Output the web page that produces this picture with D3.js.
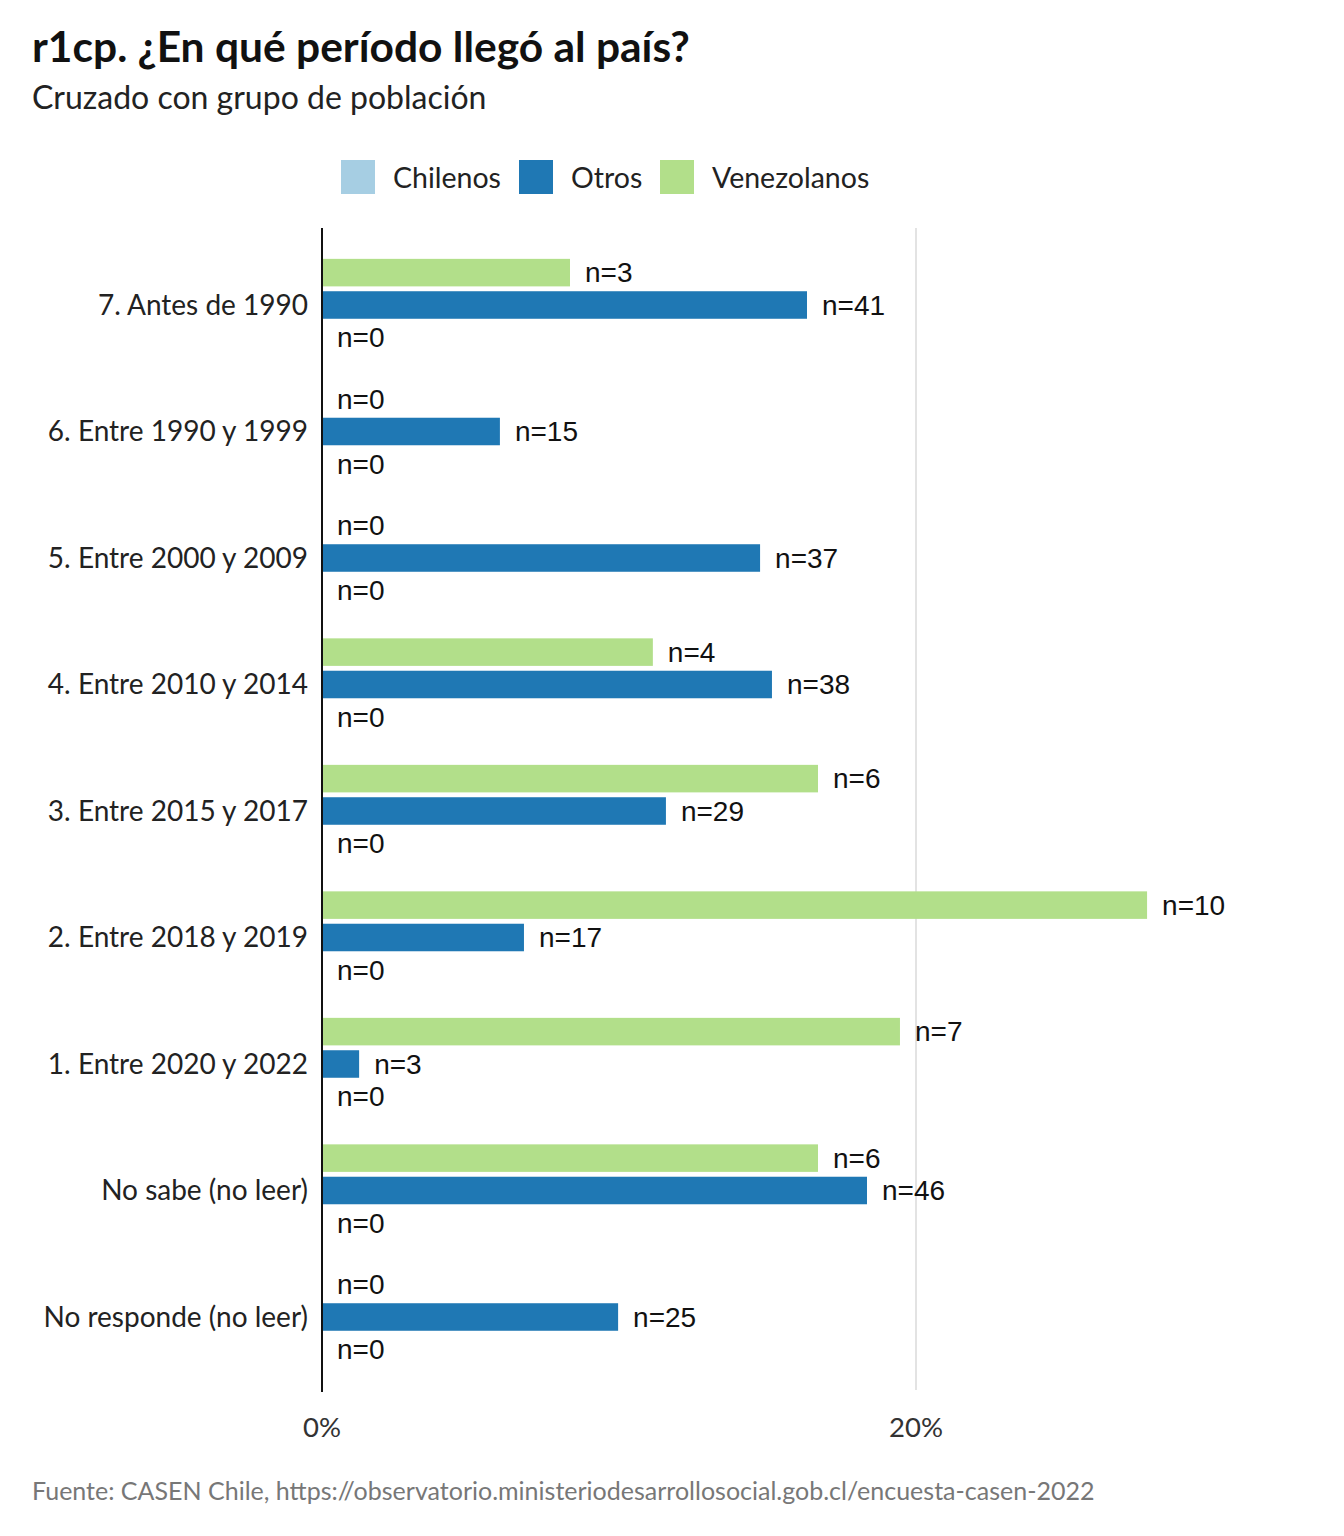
<!DOCTYPE html>
<html><head><meta charset="utf-8">
<script src="https://cdn.jsdelivr.net/npm/d3@7"></script>
<style>body{margin:0;background:#fff}</style></head>
<body><svg id="c" width="1344" height="1536"></svg>
<script>
const categories=["7. Antes de 1990","6. Entre 1990 y 1999","5. Entre 2000 y 2009","4. Entre 2010 y 2014","3. Entre 2015 y 2017","2. Entre 2018 y 2019","1. Entre 2020 y 2022","No sabe (no leer)","No responde (no leer)"];
const seriesNames=["Venezolanos","Otros","Chilenos"];
const venezolanos=[8.35,0,0,11.14,16.7,27.78,19.46,16.7,0];
const otros=[16.33,5.99,14.75,15.15,11.58,6.8,1.25,18.35,9.97];
const chilenos=[0,0,0,0,0,0,0,0,0];
const nVen=[3,0,0,4,6,10,7,6,0];
const nOtros=[41,15,37,38,29,17,3,46,25];
const nChi=[0,0,0,0,0,0,0,0,0];
const ticks=[0,20];
const colors={Chilenos:"#a6cee3",Otros:"#1f78b4",Venezolanos:"#b2df8a"};

const svg=d3.select("#c");
const x=d3.scaleLinear().domain([0,20]).range([322,916]);
const y=d3.scaleBand().domain(categories).range([241.75,1380.25]);
const sub=d3.scaleBand().domain(seriesNames).range([-51,51]).padding(0.15);
const font="Lato, sans-serif";
const nfont="'Liberation Sans', Arial, sans-serif";
svg.append("text").attr("x",32).attr("y",62).attr("font-family",font).attr("font-weight","bold").attr("font-size",42.5).attr("fill","#111").text("r1cp. ¿En qué período llegó al país?");
svg.append("text").attr("x",32).attr("y",109).attr("font-family",font).attr("font-size",32).attr("fill","#222").text("Cruzado con grupo de población");
ticks.forEach(t=>{ if(t>0) svg.append("line").attr("x1",x(t)).attr("x2",x(t)).attr("y1",228).attr("y2",1390).attr("stroke","#d0d0d0").attr("stroke-width",1.2);
 svg.append("text").attr("x",x(t)).attr("y",1427).attr("dy","0.35em").attr("text-anchor","middle").attr("font-family",font).attr("font-size",27.5).attr("fill","#333").text(t+"%");});
const data={Venezolanos:[venezolanos,nVen],Otros:[otros,nOtros],Chilenos:[chilenos,nChi]};
categories.forEach((c,i)=>{
 const cy=y(c)+y.bandwidth()/2;
 svg.append("text").attr("x",308).attr("y",cy).attr("dy","0.35em").attr("text-anchor","end").attr("font-family",font).attr("font-size",28).attr("fill","#222").text(c);
 seriesNames.forEach(s=>{
  const v=data[s][0][i],n=data[s][1][i];
  const yy=cy+sub(s);
  if(v>0) svg.append("rect").attr("x",x(0)).attr("y",yy).attr("width",x(v)-x(0)).attr("height",sub.bandwidth()).attr("fill",colors[s]);
  svg.append("text").attr("x",x(v)+15).attr("y",yy+sub.bandwidth()/2).attr("dy","0.35em").attr("font-family",nfont).attr("font-size",28).attr("fill","#111").text("n="+n);
 });
});
svg.append("line").attr("x1",322).attr("x2",322).attr("y1",228).attr("y2",1392).attr("stroke","#111").attr("stroke-width",2);
const leg=[["Chilenos",341],["Otros",519],["Venezolanos",660]];
leg.forEach(([s,lx])=>{
 svg.append("rect").attr("x",lx).attr("y",160).attr("width",34).attr("height",34).attr("fill",colors[s]);
 svg.append("text").attr("x",lx+52).attr("y",178).attr("dy","0.35em").attr("font-family",font).attr("font-size",28.5).attr("fill","#222").text(s);
});
svg.append("text").attr("x",32).attr("y",1500).attr("font-family",font).attr("font-size",25).attr("fill","#777").text("Fuente: CASEN Chile, https://observatorio.ministeriodesarrollosocial.gob.cl/encuesta-casen-2022");
</script></body></html>
